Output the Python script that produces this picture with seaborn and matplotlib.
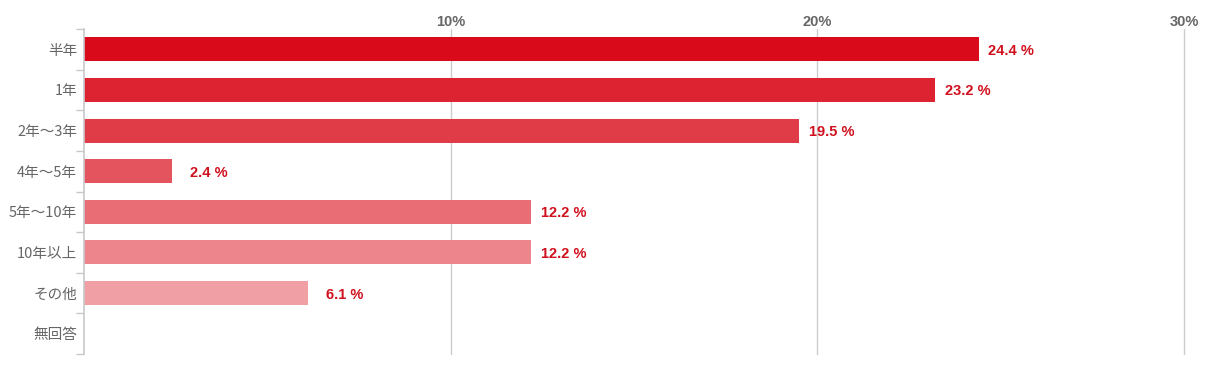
import matplotlib
matplotlib.use("Agg")
import matplotlib.pyplot as plt
import seaborn as sns
import pandas as pd

# data
categories = ["半年", "1年", "2年～3年", "4年～5年", "5年～10年", "10年以上", "その他", "無回答"]
values = [24.4, 23.2, 19.5, 2.4, 12.2, 12.2, 6.1, 0.0]
bar_colors = ["#d90b1a", "#dd2332", "#e03c48", "#e4545e", "#e86d75", "#ec868c", "#f0a0a4", "#f4babd"]
x_ticks = [10, 20, 30]
x_tick_labels = ["10%", "20%", "30%"]

df = pd.DataFrame({"category": categories, "value": values})

sns.set_style("white")
plt.rcParams["font.family"] = ["Noto Sans CJK JP", "DejaVu Sans"]

fig = plt.figure(figsize=(12.05, 3.69), dpi=100)
ax = fig.add_axes([84 / 1205, 1 - 354 / 369, 1100 / 1205, 325 / 369])

sns.barplot(data=df, x="value", y="category", hue="category", palette=bar_colors,
            orient="h", width=0.59, saturation=1, linewidth=0, legend=False,
            ax=ax, zorder=2)

ax.set_xlim(0, 30)
ax.set_ylim(len(categories) - 0.5, -0.5)

# gridlines + top tick labels
ax.set_xticks(x_ticks)
ax.set_xticklabels(x_tick_labels, fontfamily="Liberation Sans", fontweight="bold",
                   fontsize=10.5, color="#666666")
ax.xaxis.tick_top()
ax.tick_params(axis="x", length=0, pad=0, top=True, bottom=False)
ax.grid(axis="x", color="#cccccc", linewidth=1, zorder=0)
for gl in ax.get_xgridlines():
    gl.set_clip_on(False)
ax.set_axisbelow(True)

# category axis: ticks at boundaries
ax.set_yticks(range(len(categories)))
ax.set_yticklabels(categories, fontsize=10.5, color="#666666")
ax.tick_params(axis="y", length=0, pad=5)
ax.set_yticks([i - 0.5 for i in range(len(categories) + 1)], minor=True)
ax.tick_params(axis="y", which="minor", length=6, width=1, color="#c8c8cc", left=True)

for s in ["top", "right", "bottom"]:
    ax.spines[s].set_visible(False)
ax.spines["left"].set_color("#c8c8cc")
ax.spines["left"].set_linewidth(1.2)

ax.set_xlabel("")
ax.set_ylabel("")

# value labels, right-aligned in a fixed box after the bar end
for i, v in enumerate(values):
    if v <= 0:
        continue
    ax.annotate(f"{v} %", xy=(v, i), xytext=(40, 0), textcoords="offset points",
                ha="right", va="center_baseline", fontfamily="Liberation Sans",
                fontweight="bold", fontsize=10.5, color="#d0101d")

fig.savefig("out.png", dpi=100, facecolor="white")
